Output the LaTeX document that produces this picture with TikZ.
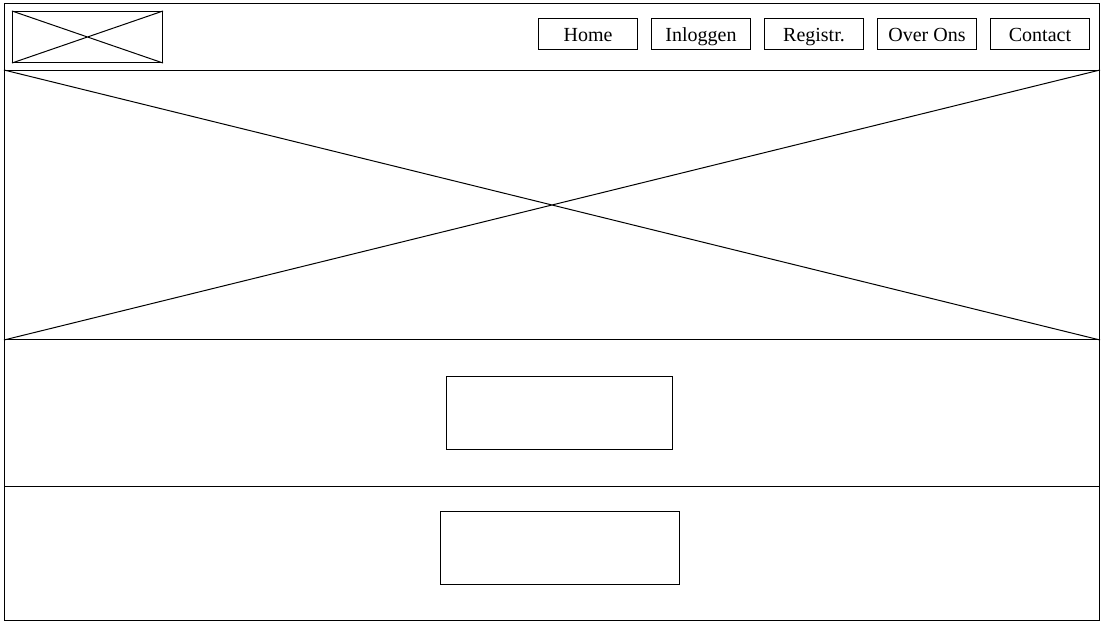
\documentclass[tikz,border=0pt]{standalone}
\usepackage{fontspec}
\setmainfont{Liberation Serif}
\begin{document}
\begin{tikzpicture}[x=1pt,y=-1pt,line width=1pt,
  navbtn/.style={draw,minimum width=99pt,minimum height=31pt,inner sep=0pt,text height=17pt,text depth=2pt,font=\fontsize{20}{23}\selectfont},
  frame/.style={draw,inner sep=0pt}]
\useasboundingbox (0,0) rectangle (1104,626);
% outer border
\draw (4,4) rectangle (1099,620);
% logo placeholder
\node[frame,minimum width=150pt,minimum height=51pt,anchor=north west] (logo) at (12,11) {};
\draw (logo.north west) -- (logo.south east) (logo.south west) -- (logo.north east);
% nav buttons
\node[navbtn,anchor=north west] (home) at (538,18) {Home};
\node[navbtn,anchor=north west] (login) at (651,18) {Inloggen};
\node[navbtn,anchor=north west] (reg) at (764,18) {Registr.};
\node[navbtn,anchor=north west] (over) at (877,18) {Over Ons};
\node[navbtn,anchor=north west] (contact) at (990,18) {Contact};
% hero
\node[frame,minimum width=1095pt,minimum height=269pt,anchor=north west] (hero) at (4,70) {};
\draw (hero.north west) -- (hero.south east) (hero.south west) -- (hero.north east);
% section divider
\draw (4,486) -- (1099,486);
% content boxes
\node[frame,minimum width=226pt,minimum height=73pt,anchor=north west] (box1) at (446,376) {};
\node[frame,minimum width=239pt,minimum height=73pt,anchor=north west] (box2) at (440,511) {};
\end{tikzpicture}
\end{document}
